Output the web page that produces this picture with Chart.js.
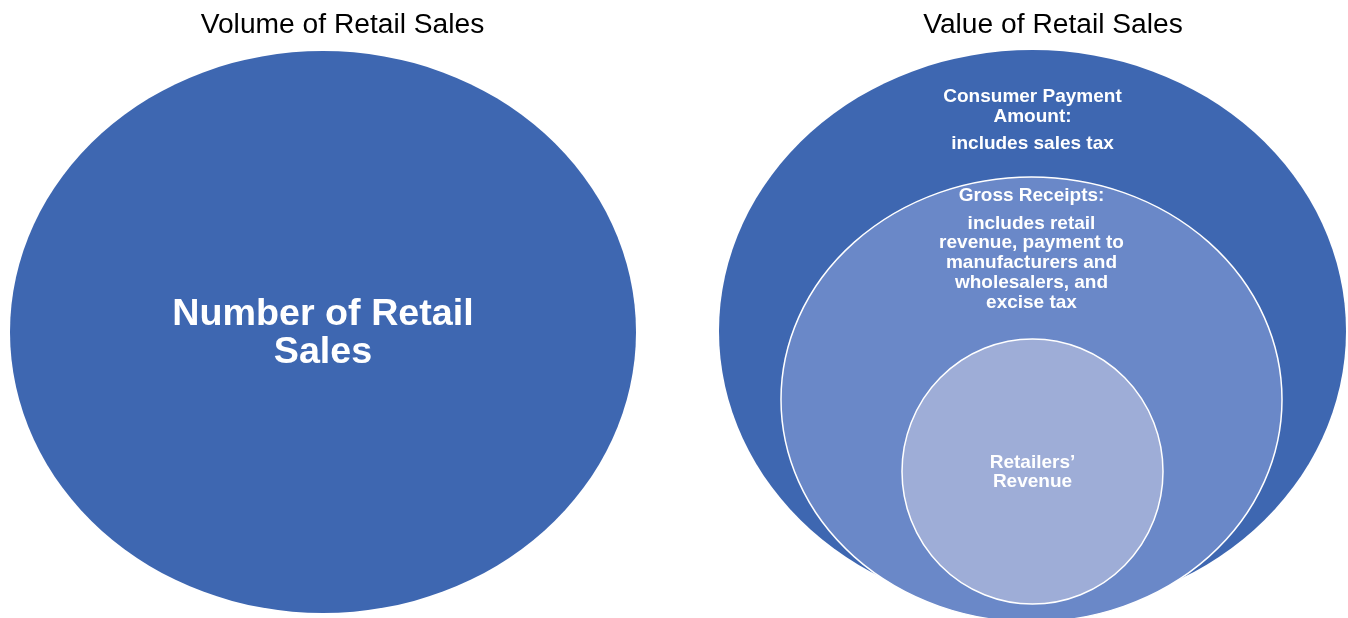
<!DOCTYPE html>
<html>
<head>
<meta charset="utf-8">
<script src="https://cdn.jsdelivr.net/npm/chart.js@4"></script>
<style>
  html, body { margin: 0; padding: 0; background: #fff; }
  #wrap { width: 1348px; height: 618px; }
</style>
</head>
<body>
<div id="wrap"><canvas id="c"></canvas></div>
<script>
// shapes: left ellipse, then the three nested ones on the right
const shapeNames = ['Number of Retail Sales', 'Consumer Payment Amount', 'Gross Receipts', 'Retailers\u2019 Revenue'];
const centerX = [323, 1032.5, 1031.5, 1032.5];
const centerY = [332, 331, 399.5, 471.5];
const radiusX = [313, 313.5, 250.5, 130.5];
const radiusY = [281, 281, 222.5, 132.5];

// text
const titleText = ['Volume of Retail Sales', 'Value of Retail Sales'];
const leftLabel = ['Number of Retail', 'Sales'];
const consumerLabel = ['Consumer Payment', 'Amount:'];
const consumerNote = ['includes sales tax'];
const grossLabel = ['Gross Receipts:'];
const grossNote = ['includes retail', 'revenue, payment to', 'manufacturers and', 'wholesalers, and', 'excise tax'];
const retailerLabel = ['Retailers\u2019', 'Revenue'];

// styles
const fills = ['#3e67b1', '#3e67b1', '#6a88c8', '#9eadd7'];
const outlined = [false, false, true, true];
const FONT = '"Liberation Sans", Arial, sans-serif';

const textBlocks = [
    { lines: [titleText[0]], x: 342.5, y: 33, lh: 30, font: '28.2px ' + FONT, color: '#000' },
    { lines: [titleText[1]], x: 1053, y: 33, lh: 30, font: '28.2px ' + FONT, color: '#000' },
    { lines: leftLabel, x: 323, y: 325, lh: 38, font: 'bold 37.7px ' + FONT, color: '#fff' },
    { lines: consumerLabel, x: 1032.5, y: 102, lh: 20, font: 'bold 19px ' + FONT, color: '#fff' },
    { lines: consumerNote, x: 1032.5, y: 148.5, lh: 20, font: 'bold 19px ' + FONT, color: '#fff' },
    { lines: grossLabel, x: 1031.5, y: 201, lh: 20, font: 'bold 19px ' + FONT, color: '#fff' },
    { lines: grossNote, x: 1031.5, y: 228.5, lh: 19.8, font: 'bold 19px ' + FONT, color: '#fff' },
    { lines: retailerLabel, x: 1032.5, y: 467.5, lh: 19.5, font: 'bold 19px ' + FONT, color: '#fff' }
];

const ellipsePlugin = {
    id: 'ellipses',
    beforeDatasetsDraw(chart) {
        const { ctx, scales: { x, y } } = chart;
        centerX.forEach((cx, i) => {
            const px = x.getPixelForValue(cx);
            const py = y.getPixelForValue(centerY[i]);
            const rx = Math.abs(x.getPixelForValue(cx + radiusX[i]) - px);
            const ry = Math.abs(y.getPixelForValue(centerY[i] + radiusY[i]) - py);
            ctx.save();
            ctx.beginPath();
            ctx.ellipse(px, py, rx, ry, 0, 0, Math.PI * 2);
            ctx.fillStyle = fills[i];
            ctx.fill();
            if (outlined[i]) {
                ctx.strokeStyle = '#fff';
                ctx.lineWidth = 1.5;
                ctx.stroke();
            }
            ctx.restore();
        });
    },
    afterDatasetsDraw(chart) {
        const { ctx, scales: { x, y } } = chart;
        ctx.save();
        ctx.textAlign = 'center';
        ctx.textBaseline = 'alphabetic';
        textBlocks.forEach(b => {
            ctx.font = b.font;
            ctx.fillStyle = b.color;
            b.lines.forEach((line, j) => {
                ctx.fillText(line, x.getPixelForValue(b.x), y.getPixelForValue(b.y + j * b.lh));
            });
        });
        ctx.restore();
    }
};

new Chart(document.getElementById('c'), {
    type: 'scatter',
    data: {
        datasets: [{
            label: 'shapes',
            data: centerX.map((cx, i) => ({ x: cx, y: centerY[i] })),
            pointRadius: 0
        }]
    },
    options: {
        responsive: true,
        maintainAspectRatio: false,
        animation: false,
        layout: { padding: 0 },
        scales: {
            x: { type: 'linear', min: 0, max: 1348, display: false },
            y: { type: 'linear', min: 0, max: 618, reverse: true, display: false }
        },
        plugins: { legend: { display: false }, tooltip: { enabled: false } }
    },
    plugins: [ellipsePlugin]
});
</script>
</body>
</html>
